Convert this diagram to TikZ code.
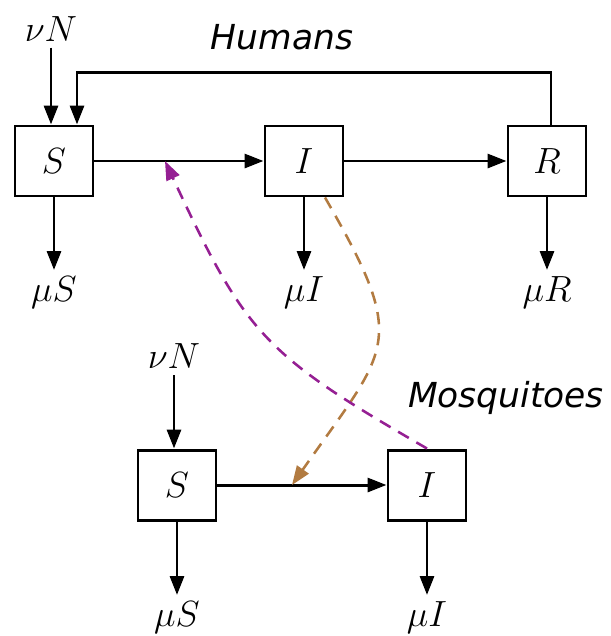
\documentclass[tikz,border=0pt]{standalone}
\usepackage{amsmath,amssymb}
\usepackage{fontspec}
\usepackage{tikz}
\usetikzlibrary{arrows.meta, positioning, calc}
\usepackage{xcolor}
\newfontfamily\groupfont{DejaVu Sans}
\definecolor{biteh}{HTML}{951F93}
\definecolor{bitem}{HTML}{B27B41}
\tikzset{
  compart/.style={draw, line width=1.7pt, minimum width=1.56cm, minimum height=1.4cm, inner sep=0pt},
  flow/.style={-{Triangle[length=0.38cm,width=0.28cm]}, line width=1.7pt},
  vector/.style={flow, line width=1.45pt, dash pattern=on 7pt off 5pt},
  group/.style={font=\groupfont\itshape\fontsize{19.6}{24}\selectfont}
}

\begin{document}
\begin{tikzpicture}[font=\fontsize{20}{24}\selectfont, >=Stealth]
  \useasboundingbox (0,0) rectangle (12.2,-12.72);
  % humans
  \node[compart] (Sh) at (1.08,-3.22) {$S$};
  \node[compart] (Ih) at (6.08,-3.22) {$I$};
  \node[compart] (Rh) at (10.94,-3.22) {$R$};
  \node[anchor=south] (nuh) at (1.02,-0.95) {$\nu N$};
  \node[anchor=north] (muSh) at (1.08,-5.4) {$\mu S$};
  \node[anchor=north] (muIh) at (6.08,-5.4) {$\mu I$};
  \node[anchor=north] (muRh) at (10.94,-5.4) {$\mu R$};
  \node[group] (hum) at (5.64,-0.74) {Humans};
  \draw[flow] (Sh) -- (Ih);
  \draw[flow] (Ih) -- (Rh);
  \draw[flow] (nuh.south) -- (nuh.south |- Sh.north);
  \draw[flow] (Sh) -- (muSh);
  \draw[flow] (Ih) -- (muIh);
  \draw[flow] (Rh) -- (muRh);
  \draw[flow] ([xshift=0.08cm]Rh.north) -- ++(0,1.04) -| ([xshift=0.46cm]Sh.north);
  % mosquitoes
  \node[compart] (Sm) at (3.54,-9.7) {$S$};
  \node[compart] (Im) at (8.54,-9.7) {$I$};
  \node[anchor=south] (num) at (3.48,-7.5) {$\nu N$};
  \node[anchor=north] (muSm) at (3.54,-11.9) {$\mu S$};
  \node[anchor=north] (muIm) at (8.54,-11.9) {$\mu I$};
  \node[group] (mos) at (10.12,-7.96) {Mosquitoes};
  \draw[flow] (Sm) -- (Im);
  \draw[flow] (num.south) -- (num.south |- Sm.north);
  \draw[flow] (Sm) -- (muSm);
  \draw[flow] (Im) -- (muIm);
  % bites
  \coordinate (hitH) at ($(Sh)!0.444!(Ih)$);
  \coordinate (hitM) at ($(Sm)!0.46!(Im)$);
  \draw[vector, bitem] ([xshift=0.42cm]Ih.south) to[out=-60, in=55, looseness=1.5] (hitM);
  \draw[vector, biteh] (Im.north) to[out=150, in=-65, looseness=1.25] (hitH);
\end{tikzpicture}
\end{document}
